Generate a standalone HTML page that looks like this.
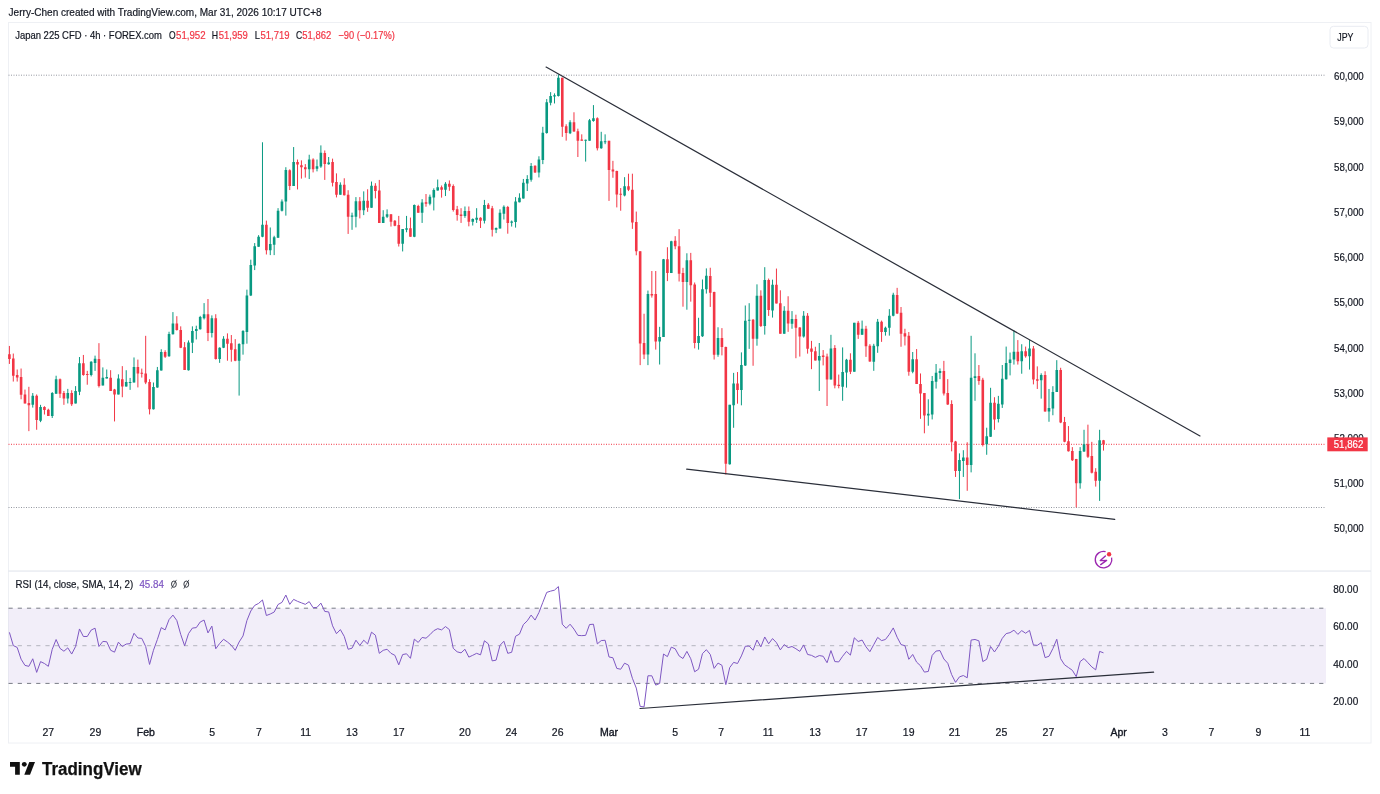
<!DOCTYPE html>
<html><head><meta charset="utf-8"><title>Japan 225 CFD 4h chart</title>
<style>html,body{margin:0;padding:0;background:#fff;width:1380px;height:794px;overflow:hidden}svg{display:block;will-change:transform}text{font-family:"Liberation Sans",sans-serif}</style>
</head><body>
<svg width="1380" height="794" viewBox="0 0 1380 794" font-family="Liberation Sans, sans-serif"><rect x="8.5" y="22.5" width="1362.5" height="720.5" fill="none" stroke="#EEF0F4" stroke-width="1"/>
<rect x="8" y="570.4" width="1363" height="1.3" fill="#E6E9EF"/>
<rect x="8.5" y="608.2" width="1317.5" height="75.2" fill="#7E57C2" fill-opacity="0.1"/>
<line x1="8.5" y1="608.2" x2="1325" y2="608.2" stroke="#787B86" stroke-width="1" stroke-dasharray="4.2 5.03"/>
<line x1="8.5" y1="645.7" x2="1325" y2="645.7" stroke="#787B86" stroke-opacity="0.5" stroke-width="1" stroke-dasharray="4.2 5.03"/>
<line x1="8.5" y1="683.4" x2="1325" y2="683.4" stroke="#787B86" stroke-width="1" stroke-dasharray="4.2 5.03"/>
<line x1="8.5" y1="75.2" x2="1326" y2="75.2" stroke="#9598A1" stroke-width="1" stroke-dasharray="1 1.5"/>
<line x1="8.5" y1="507.5" x2="1326" y2="507.5" stroke="#9598A1" stroke-width="1" stroke-dasharray="1 1.5"/>
<line x1="8.5" y1="444.3" x2="1326" y2="444.3" stroke="#F23645" stroke-width="1" stroke-dasharray="1 1.5"/>
<path d="M32.76 393.05V407.60M40.55 404.83V422.15M52.23 392.08V417.99M56.12 375.73V393.74M67.80 388.89V403.44M75.59 386.12V403.44M79.48 357.02V395.13M91.17 361.18V376.42M95.06 355.64V370.88M102.85 367.41V385.43M106.74 369.49V378.50M118.42 374.34V394.43M126.21 370.23V386.60M130.10 377.92V389.87M134.00 357.46V382.51M153.46 382.51V409.52M157.36 366.95V387.75M161.25 349.27V370.55M169.04 331.75V356.80M172.93 312.10V334.53M188.51 340.43V370.55M192.40 326.35V353.04M196.29 325.69V339.45M200.19 315.87V329.62M204.08 303.10V319.47M211.87 315.38V337.48M219.65 347.30V362.86M223.55 336.17V348.12M239.12 343.21V395.60M243.02 330.11V354.67M246.91 289.65V343.68M250.80 259.69V296.05M254.70 243.06V270.08M258.59 235.16V246.80M262.48 142.27V237.24M270.27 227.47V255.11M274.16 235.79V255.11M278.06 208.15V237.87M281.95 199.42V211.47M285.85 167.21V215.63M293.63 147.05V185.91M309.21 154.74V179.06M316.99 159.52V171.37M320.89 145.39V167.83M328.67 157.00V164.70M340.36 182.37V194.65M352.04 212.65V229.84M355.93 197.10V227.38M363.72 191.37V215.11M371.50 181.55V207.74M383.19 210.20V222.96M387.08 209.38V218.05M402.65 229.02V251.44M406.55 215.92V232.29M414.33 204.47V237.20M422.12 199.12V222.93M429.91 194.58V205.35M433.80 188.34V210.45M437.70 179.50V190.61M445.48 182.11V196.05M464.95 206.49V217.82M472.74 218.39V225.53M476.63 208.19V222.93M484.42 199.91V223.49M496.10 227.46V233.13M499.99 209.32V228.59M503.89 205.35V219.52M511.67 220.50V226.55M515.57 197.08V227.61M519.46 193.30V202.37M523.35 178.94V198.59M527.25 175.16V191.03M531.14 163.07V181.66M538.93 156.27V177.43M542.82 126.80V164.13M546.72 99.06V133.70M550.61 92.13V105.35M554.50 93.39V103.46M558.40 74.49V96.54M570.08 120.22V134.08M585.65 139.66V161.59M589.55 118.96V140.63M593.44 105.10V121.73M601.23 131.81V148.82M605.12 134.33V144.16M624.59 177.16V196.37M647.95 290.57V365.13M659.63 326.84V364.52M663.52 258.93V336.91M671.31 240.79V273.04M686.89 253.29V309.71M698.57 317.77V349.61M702.46 279.48V336.91M706.35 268.40V293.59M718.03 327.28V356.77M729.71 404.84V464.67M733.61 372.87V427.79M741.40 352.38V405.33M745.29 305.49V365.98M749.18 303.19V348.88M756.97 284.35V345.70M764.76 267.18V334.62M772.54 279.65V317.59M784.23 306.23V333.65M792.01 311.09V328.76M803.69 311.09V337.60M819.27 343.00V390.95M830.95 334.82V379.49M842.63 347.42V400.77M846.52 358.87V387.67M854.31 322.87V371.64M862.10 320.58V334.82M873.78 343.82V370.82M877.67 318.95V352.82M885.46 326.64V335.64M889.35 309.13V335.64M893.25 292.76V316.33M912.71 352.00V373.27M928.29 399.29V425.75M932.18 375.98V419.45M936.08 364.02V388.58M939.97 368.43V379.13M959.44 453.38V499.13M963.33 450.19V476.95M971.12 335.81V472.37M975.01 353.31V400.80M986.69 427.73V454.77M990.59 387.80V436.88M998.37 395.88V422.46M1002.27 365.00V407.93M1006.16 346.59V379.54M1010.05 352.54V375.39M1013.95 330.38V364.59M1021.73 344.23V373.72M1029.52 340.08V369.57M1041.20 373.31V398.65M1048.99 388.96V421.77M1052.88 386.19V415.26M1056.78 360.16V392.00M1080.14 447.11V488.68M1084.03 429.79V451.96M1099.61 429.79V500.88" stroke="#089981" stroke-width="1" fill="none"/>
<path d="M9.40 345.94V363.95M13.29 353.56V381.55M17.19 369.49V381.55M21.08 368.52V399.28M24.97 389.58V403.44M28.87 386.81V431.15M36.66 394.43V429.77M44.44 406.21V414.53M48.34 408.71V415.91M60.02 378.50V397.90M63.91 390.97V404.83M71.70 390.28V405.94M83.38 354.94V375.73M87.27 370.88V384.73M98.95 343.16V387.51M110.63 370.18V390.97M114.53 388.89V421.45M122.31 366.13V397.24M137.89 359.58V387.42M141.78 368.59V377.59M145.68 335.84V384.14M149.57 379.23V414.43M165.14 350.25V357.95M176.82 316.20V330.60M180.72 326.35V348.12M184.61 342.07V369.90M207.97 299.01V341.08M215.76 314.23V359.58M227.44 333.39V360.73M231.33 335.03V361.71M235.23 339.12V361.22M266.38 220.62V254.49M289.74 169.29V190.07M297.53 159.52V189.45M301.42 160.35V178.64M305.31 164.09V177.60M313.10 158.27V172.41M324.78 150.46V179.92M332.57 158.64V186.46M336.46 173.37V197.43M344.25 178.28V195.47M348.14 190.23V233.93M359.82 197.10V218.38M367.61 189.25V211.83M375.40 183.19V198.41M379.29 179.92V222.96M390.97 214.29V226.56M394.87 220.02V226.24M398.76 215.92V246.53M410.44 217.56V236.71M418.23 204.78V212.72M426.01 194.01V206.71M441.59 185.51V197.64M449.38 180.41V190.84M453.27 184.38V211.59M457.16 205.92V220.66M461.06 208.19V222.93M468.84 206.49V226.33M480.52 217.26V228.03M488.31 203.08V208.98M492.21 205.92V236.53M507.78 205.92V233.70M535.04 165.34V172.90M562.29 77.64V136.85M566.18 124.25V140.63M573.97 112.28V131.81M577.86 128.66V157.01M581.76 134.33V140.63M597.33 117.32V150.46M609.01 140.87V200.91M612.91 160.83V177.77M616.80 170.66V207.41M620.69 188.05V210.74M628.48 173.69V191.08M632.38 173.69V228.88M636.27 211.57V255.30M640.16 251.27V365.13M644.06 313.74V359.08M651.84 271.02V297.62M655.74 271.02V349.61M667.42 247.24V281.10M675.20 236.16V249.26M679.10 229.11V281.50M682.99 267.80V306.69M690.78 252.88V301.65M694.67 282.51V348.40M710.25 267.74V306.92M714.14 291.69V359.54M721.93 328.11V355.39M725.82 346.64V474.51M737.50 372.05V403.69M753.08 318.97V365.77M760.86 290.31V327.00M768.65 278.54V315.92M776.44 268.57V303.46M780.33 290.31V333.65M788.12 296.26V331.85M795.91 314.69V358.22M799.80 327.13V356.58M807.59 313.06V353.64M811.48 340.87V369.18M815.37 346.76V360.51M823.16 350.04V365.42M827.05 353.64V406.00M834.84 345.13V388.33M838.74 374.58V388.33M850.42 353.31V374.09M858.20 320.91V338.91M865.99 325.82V356.91M869.88 344.15V361.82M881.57 320.58V341.86M897.14 287.85V314.04M901.03 307.00V346.76M904.93 328.76V345.46M908.82 332.04V375.73M916.61 349.06V383.91M920.50 373.46V418.82M924.39 392.99V433.31M943.86 360.87V395.51M947.76 379.13V404.96M951.65 400.28V451.30M955.54 440.90V476.95M967.22 442.29V490.81M978.90 365.02V384.80M982.80 377.82V446.45M994.48 397.23V429.81M1017.84 340.08V364.59M1025.63 346.59V357.66M1033.42 346.03V384.39M1037.31 366.39V388.96M1045.10 371.23V411.66M1060.67 367.77V423.16M1064.56 416.91V442.26M1068.46 426.05V451.55M1072.35 447.11V460.97M1076.24 458.89V507.39M1087.93 424.67V457.92M1091.82 441.85V473.44M1095.71 468.18V486.60M1103.50 439.91V450.58" stroke="#F23645" stroke-width="1" fill="none"/>
<path d="M31.46 395.82h2.6v9.01h-2.6zM39.25 406.91h2.6v13.86h-2.6zM50.93 393.05h2.6v22.86h-2.6zM54.82 379.19h2.6v14.55h-2.6zM66.50 393.05h2.6v5.54h-2.6zM74.29 390.97h2.6v12.47h-2.6zM78.18 363.26h2.6v28.41h-2.6zM89.87 361.87h2.6v13.16h-2.6zM93.76 358.82h2.6v4.16h-2.6zM101.55 377.81h2.6v7.62h-2.6zM105.44 377.11h2.6v1.39h-2.6zM117.12 378.50h2.6v15.94h-2.6zM124.91 382.02h2.6v4.58h-2.6zM128.80 382.02h2.6v1.00h-2.6zM132.70 366.95h2.6v15.55h-2.6zM152.16 386.93h2.6v22.27h-2.6zM156.06 370.23h2.6v17.19h-2.6zM159.95 351.89h2.6v18.66h-2.6zM167.74 333.88h2.6v22.43h-2.6zM171.63 323.56h2.6v10.64h-2.6zM187.21 342.39h2.6v27.83h-2.6zM191.10 330.93h2.6v11.79h-2.6zM194.99 328.97h2.6v1.96h-2.6zM198.89 317.02h2.6v12.28h-2.6zM202.78 314.23h2.6v3.93h-2.6zM210.57 318.16h2.6v14.74h-2.6zM218.35 347.63h2.6v11.46h-2.6zM222.25 338.79h2.6v8.84h-2.6zM237.82 344.03h2.6v16.70h-2.6zM241.72 330.93h2.6v13.43h-2.6zM245.61 295.38h2.6v36.51h-2.6zM249.50 264.88h2.6v30.55h-2.6zM253.40 246.18h2.6v19.33h-2.6zM257.29 236.83h2.6v9.97h-2.6zM261.18 224.77h2.6v12.05h-2.6zM268.97 244.10h2.6v6.23h-2.6zM272.86 237.24h2.6v7.48h-2.6zM276.76 210.85h2.6v27.02h-2.6zM280.65 201.50h2.6v9.35h-2.6zM284.55 169.91h2.6v31.59h-2.6zM292.33 162.02h2.6v23.90h-2.6zM307.91 159.52h2.6v9.77h-2.6zM315.69 166.17h2.6v2.49h-2.6zM319.59 152.66h2.6v13.92h-2.6zM327.37 162.41h2.6v1.96h-2.6zM339.06 184.83h2.6v9.82h-2.6zM350.74 215.43h2.6v1.31h-2.6zM354.63 201.19h2.6v15.55h-2.6zM362.42 200.70h2.6v9.49h-2.6zM370.20 185.65h2.6v22.09h-2.6zM381.89 216.74h2.6v6.22h-2.6zM385.78 214.29h2.6v2.45h-2.6zM401.35 229.02h2.6v14.73h-2.6zM405.25 228.20h2.6v1.64h-2.6zM413.03 204.96h2.6v31.75h-2.6zM420.82 202.52h2.6v10.20h-2.6zM428.61 196.85h2.6v6.80h-2.6zM432.50 190.05h2.6v7.37h-2.6zM436.40 187.21h2.6v3.40h-2.6zM444.18 183.81h2.6v5.90h-2.6zM463.65 211.02h2.6v5.10h-2.6zM471.44 218.96h2.6v2.83h-2.6zM475.33 217.82h2.6v2.04h-2.6zM483.12 205.12h2.6v15.53h-2.6zM494.80 228.03h2.6v1.70h-2.6zM498.69 212.72h2.6v15.87h-2.6zM502.59 206.71h2.6v7.14h-2.6zM510.37 221.56h2.6v1.21h-2.6zM514.27 201.61h2.6v20.40h-2.6zM518.16 197.83h2.6v4.53h-2.6zM522.05 182.72h2.6v15.87h-2.6zM525.95 178.94h2.6v4.53h-2.6zM529.84 166.10h2.6v13.60h-2.6zM537.63 159.60h2.6v13.00h-2.6zM541.52 132.85h2.6v27.20h-2.6zM545.42 102.20h2.6v30.87h-2.6zM549.31 95.91h2.6v6.93h-2.6zM553.20 95.28h2.6v1.26h-2.6zM557.10 77.64h2.6v18.27h-2.6zM568.78 122.36h2.6v10.96h-2.6zM584.35 139.66h2.6v1.00h-2.6zM588.25 120.22h2.6v20.41h-2.6zM592.14 118.20h2.6v2.90h-2.6zM599.93 141.26h2.6v6.93h-2.6zM603.82 141.26h2.6v1.00h-2.6zM623.29 186.24h2.6v9.38h-2.6zM646.65 293.99h2.6v60.45h-2.6zM658.33 336.91h2.6v4.63h-2.6zM662.22 259.33h2.6v77.58h-2.6zM670.01 241.20h2.6v31.84h-2.6zM685.59 260.34h2.6v21.56h-2.6zM697.27 335.91h2.6v7.05h-2.6zM701.16 289.16h2.6v47.15h-2.6zM705.05 275.86h2.6v13.30h-2.6zM716.73 338.08h2.6v16.62h-2.6zM728.41 404.84h2.6v59.51h-2.6zM732.31 383.52h2.6v21.80h-2.6zM740.10 365.00h2.6v25.08h-2.6zM743.99 320.74h2.6v44.75h-2.6zM747.88 319.80h2.6v1.00h-2.6zM755.67 295.85h2.6v42.92h-2.6zM763.46 279.92h2.6v45.97h-2.6zM771.24 284.77h2.6v25.62h-2.6zM782.93 310.66h2.6v22.99h-2.6zM790.71 318.95h2.6v4.91h-2.6zM802.39 315.67h2.6v20.78h-2.6zM817.97 356.09h2.6v4.42h-2.6zM829.65 348.40h2.6v31.09h-2.6zM841.33 371.97h2.6v14.73h-2.6zM845.22 359.86h2.6v12.60h-2.6zM853.01 322.87h2.6v48.76h-2.6zM860.80 328.76h2.6v6.05h-2.6zM872.48 345.78h2.6v16.04h-2.6zM876.37 321.73h2.6v24.55h-2.6zM884.16 327.78h2.6v4.25h-2.6zM888.05 315.67h2.6v12.11h-2.6zM891.95 294.73h2.6v20.95h-2.6zM911.41 359.37h2.6v12.27h-2.6zM926.99 413.78h2.6v1.64h-2.6zM930.88 381.02h2.6v33.39h-2.6zM934.78 372.83h2.6v8.82h-2.6zM938.67 370.94h2.6v2.14h-2.6zM958.14 459.90h2.6v11.09h-2.6zM962.03 457.54h2.6v3.47h-2.6zM969.82 377.82h2.6v87.07h-2.6zM973.71 376.36h2.6v1.76h-2.6zM985.39 436.33h2.6v8.04h-2.6zM989.29 402.77h2.6v33.97h-2.6zM997.07 403.77h2.6v15.23h-2.6zM1000.97 378.85h2.6v25.62h-2.6zM1004.86 362.92h2.6v16.34h-2.6zM1008.75 359.46h2.6v3.46h-2.6zM1012.65 351.85h2.6v7.62h-2.6zM1020.43 351.15h2.6v10.11h-2.6zM1028.22 348.39h2.6v7.89h-2.6zM1039.90 375.11h2.6v5.12h-2.6zM1047.69 407.93h2.6v3.46h-2.6zM1051.58 392.00h2.6v16.62h-2.6zM1055.48 370.12h2.6v21.88h-2.6zM1078.84 450.99h2.6v32.15h-2.6zM1082.73 444.34h2.6v7.21h-2.6zM1098.31 440.18h2.6v40.46h-2.6z" fill="#089981"/>
<path d="M8.10 354.25h2.6v4.85h-2.6zM11.99 358.41h2.6v17.32h-2.6zM15.89 375.03h2.6v2.36h-2.6zM19.78 377.11h2.6v17.74h-2.6zM23.67 394.43h2.6v9.01h-2.6zM27.57 403.03h2.6v2.22h-2.6zM35.36 395.82h2.6v24.25h-2.6zM43.14 406.91h2.6v3.19h-2.6zM47.04 409.68h2.6v6.24h-2.6zM58.72 379.19h2.6v14.55h-2.6zM62.61 393.05h2.6v5.54h-2.6zM70.40 393.05h2.6v11.09h-2.6zM82.08 363.26h2.6v11.78h-2.6zM85.97 374.06h2.6v1.00h-2.6zM97.65 359.10h2.6v27.02h-2.6zM109.33 377.81h2.6v13.16h-2.6zM113.23 389.58h2.6v4.85h-2.6zM121.01 379.23h2.6v7.37h-2.6zM136.59 366.95h2.6v6.55h-2.6zM140.48 372.68h2.6v1.00h-2.6zM144.38 373.50h2.6v9.01h-2.6zM148.27 382.02h2.6v27.18h-2.6zM163.84 351.89h2.6v4.91h-2.6zM175.52 323.56h2.6v6.55h-2.6zM179.42 330.11h2.6v17.52h-2.6zM183.31 347.30h2.6v22.59h-2.6zM206.67 314.23h2.6v18.66h-2.6zM214.46 318.16h2.6v40.93h-2.6zM226.14 338.79h2.6v4.91h-2.6zM230.03 343.21h2.6v6.55h-2.6zM233.93 349.27h2.6v11.46h-2.6zM265.08 224.77h2.6v25.56h-2.6zM288.44 170.33h2.6v15.59h-2.6zM296.23 162.02h2.6v2.49h-2.6zM300.12 165.13h2.6v2.08h-2.6zM304.01 167.21h2.6v2.08h-2.6zM311.80 159.52h2.6v9.77h-2.6zM323.48 152.91h2.6v11.13h-2.6zM331.27 161.91h2.6v20.79h-2.6zM335.16 182.05h2.6v12.60h-2.6zM342.95 184.83h2.6v10.31h-2.6zM346.84 194.65h2.6v22.09h-2.6zM358.52 201.19h2.6v9.00h-2.6zM366.31 200.70h2.6v7.04h-2.6zM374.10 185.65h2.6v5.24h-2.6zM377.99 190.56h2.6v32.41h-2.6zM389.67 214.29h2.6v7.36h-2.6zM393.57 220.83h2.6v4.91h-2.6zM397.46 224.93h2.6v18.82h-2.6zM409.14 228.20h2.6v8.51h-2.6zM416.93 205.92h2.6v6.80h-2.6zM424.71 202.18h2.6v1.47h-2.6zM440.29 187.21h2.6v2.49h-2.6zM448.08 183.81h2.6v2.83h-2.6zM451.97 186.08h2.6v23.81h-2.6zM455.86 209.32h2.6v5.67h-2.6zM459.76 214.42h2.6v1.70h-2.6zM467.54 211.02h2.6v10.77h-2.6zM479.22 217.82h2.6v2.83h-2.6zM487.01 204.78h2.6v3.97h-2.6zM490.91 208.19h2.6v21.54h-2.6zM506.48 207.05h2.6v15.87h-2.6zM533.74 165.64h2.6v6.95h-2.6zM560.99 77.64h2.6v49.13h-2.6zM564.88 126.14h2.6v6.93h-2.6zM572.67 122.36h2.6v9.20h-2.6zM576.56 131.18h2.6v9.45h-2.6zM580.46 139.62h2.6v1.01h-2.6zM596.03 118.20h2.6v29.98h-2.6zM607.71 140.87h2.6v29.04h-2.6zM611.61 169.60h2.6v1.81h-2.6zM615.50 171.12h2.6v23.29h-2.6zM619.39 193.80h2.6v1.06h-2.6zM627.18 186.24h2.6v3.63h-2.6zM631.08 189.87h2.6v32.67h-2.6zM634.97 222.05h2.6v29.22h-2.6zM638.86 251.27h2.6v92.29h-2.6zM642.76 342.96h2.6v11.49h-2.6zM650.54 293.99h2.6v1.61h-2.6zM654.44 293.99h2.6v47.56h-2.6zM666.12 259.33h2.6v13.70h-2.6zM673.90 240.79h2.6v5.44h-2.6zM677.80 246.23h2.6v27.61h-2.6zM681.69 273.04h2.6v8.87h-2.6zM689.48 260.34h2.6v24.79h-2.6zM693.37 284.52h2.6v58.44h-2.6zM708.95 276.05h2.6v16.62h-2.6zM712.84 292.11h2.6v62.59h-2.6zM720.63 338.08h2.6v9.00h-2.6zM724.52 346.97h2.6v116.89h-2.6zM736.20 383.52h2.6v6.56h-2.6zM751.78 319.80h2.6v18.97h-2.6zM759.56 295.85h2.6v30.05h-2.6zM767.35 279.92h2.6v30.19h-2.6zM775.14 284.77h2.6v18.69h-2.6zM779.03 303.19h2.6v30.46h-2.6zM786.82 310.66h2.6v12.88h-2.6zM794.61 318.95h2.6v8.84h-2.6zM798.50 327.46h2.6v9.00h-2.6zM806.29 315.67h2.6v33.06h-2.6zM810.18 348.40h2.6v3.27h-2.6zM814.07 351.18h2.6v9.33h-2.6zM821.86 355.60h2.6v1.31h-2.6zM825.75 356.58h2.6v22.91h-2.6zM833.54 347.91h2.6v37.64h-2.6zM837.44 384.73h2.6v1.31h-2.6zM849.12 359.86h2.6v11.78h-2.6zM856.90 322.87h2.6v11.95h-2.6zM864.69 328.76h2.6v17.51h-2.6zM868.58 345.78h2.6v15.71h-2.6zM880.27 321.73h2.6v10.31h-2.6zM895.84 295.05h2.6v18.49h-2.6zM899.73 312.73h2.6v20.95h-2.6zM903.63 333.18h2.6v3.27h-2.6zM907.52 335.64h2.6v36.00h-2.6zM915.31 359.37h2.6v24.55h-2.6zM919.20 383.92h2.6v9.70h-2.6zM923.09 392.99h2.6v22.43h-2.6zM942.56 370.94h2.6v22.68h-2.6zM946.46 392.99h2.6v11.59h-2.6zM950.35 404.02h2.6v38.27h-2.6zM954.24 441.59h2.6v29.39h-2.6zM965.92 457.54h2.6v7.35h-2.6zM977.60 375.98h2.6v5.04h-2.6zM981.50 379.76h2.6v65.30h-2.6zM993.18 402.77h2.6v16.64h-2.6zM1016.54 351.85h2.6v9.42h-2.6zM1024.33 351.15h2.6v5.12h-2.6zM1032.12 348.39h2.6v31.15h-2.6zM1036.01 379.26h2.6v1.38h-2.6zM1043.80 375.11h2.6v36.28h-2.6zM1059.37 370.12h2.6v52.34h-2.6zM1063.26 421.89h2.6v19.95h-2.6zM1067.16 441.29h2.6v9.98h-2.6zM1071.05 450.99h2.6v9.28h-2.6zM1074.94 458.89h2.6v24.25h-2.6zM1086.63 444.34h2.6v12.47h-2.6zM1090.52 456.12h2.6v16.63h-2.6zM1094.41 471.78h2.6v8.87h-2.6zM1102.20 440.18h2.6v4.43h-2.6z" fill="#F23645"/>
<line x1="546.1" y1="67.1" x2="1200" y2="435.9" stroke="#2A2E39" stroke-width="1.2" stroke-linecap="round"/>
<line x1="686.7" y1="469.1" x2="1114.8" y2="519.3" stroke="#2A2E39" stroke-width="1.2" stroke-linecap="round"/>
<path d="M9.40 632.34 L13.29 645.56 L17.19 647.45 L21.08 659.16 L24.97 665.40 L28.87 666.34 L32.76 658.78 L36.66 672.38 L40.55 661.62 L44.44 663.51 L48.34 666.34 L52.23 649.34 L56.12 639.52 L60.02 648.39 L63.91 651.23 L67.80 647.83 L71.70 654.06 L75.59 646.51 L79.48 628.94 L83.38 636.49 L87.27 636.49 L91.17 630.07 L95.06 628.18 L98.95 646.51 L102.85 641.40 L106.74 641.78 L110.63 650.28 L114.53 652.17 L118.42 642.16 L122.31 646.51 L126.21 644.05 L130.10 643.67 L134.00 633.28 L137.89 638.00 L141.78 638.38 L145.68 646.51 L149.57 664.45 L153.46 650.28 L157.36 639.52 L161.25 627.62 L165.14 629.89 L169.04 619.61 L172.93 615.08 L176.82 620.52 L180.72 634.43 L184.61 645.77 L188.51 633.67 L192.40 628.08 L196.29 627.62 L200.19 622.03 L204.08 620.06 L207.97 632.92 L211.87 626.11 L215.76 648.79 L219.65 643.50 L223.55 639.27 L227.44 641.99 L231.33 645.31 L235.23 650.30 L239.12 641.99 L243.02 635.94 L246.91 620.52 L250.80 610.99 L254.70 605.40 L258.59 603.43 L262.48 599.96 L266.38 615.53 L270.27 614.02 L274.16 612.05 L278.06 604.49 L281.95 602.38 L285.85 595.05 L289.74 604.35 L293.63 599.36 L297.53 601.33 L301.42 602.84 L305.31 604.35 L309.21 601.63 L313.10 607.68 L316.99 607.38 L320.89 603.14 L324.78 611.46 L328.67 611.91 L332.57 625.82 L336.46 633.68 L340.36 629.60 L344.25 636.41 L348.14 649.26 L352.04 648.20 L355.93 640.19 L359.82 645.48 L363.72 640.19 L367.61 643.97 L371.50 632.17 L375.40 635.20 L379.29 653.34 L383.19 650.32 L387.08 649.26 L390.97 653.34 L394.87 655.31 L398.76 664.83 L402.65 654.55 L406.55 653.79 L410.44 658.33 L414.33 639.13 L418.23 642.45 L422.12 637.45 L426.01 638.21 L429.91 634.73 L433.80 630.65 L437.70 628.68 L441.59 629.89 L445.48 626.57 L449.38 629.59 L453.27 648.34 L457.16 651.82 L461.06 652.88 L464.95 649.25 L468.84 657.11 L472.74 655.29 L476.63 653.33 L480.52 654.84 L484.42 640.78 L488.31 643.80 L492.21 660.89 L496.10 660.13 L499.99 645.32 L503.89 641.23 L507.78 653.33 L511.67 652.27 L515.57 636.24 L519.46 634.13 L523.35 624.60 L527.25 620.82 L531.14 615.08 L535.04 620.07 L538.93 612.51 L542.82 602.38 L546.72 592.40 L550.61 591.13 L554.50 590.15 L558.40 586.55 L562.29 624.21 L566.18 628.31 L570.08 624.21 L573.97 629.12 L577.86 635.35 L581.76 635.67 L585.65 635.35 L589.55 624.54 L593.44 624.21 L597.33 643.86 L601.23 640.59 L605.12 640.26 L609.01 656.96 L612.91 657.78 L616.80 668.42 L620.69 669.24 L624.59 663.18 L628.48 665.15 L632.38 678.25 L636.27 688.07 L640.16 706.41 L644.06 706.90 L647.95 675.79 L651.84 675.79 L655.74 685.13 L659.63 683.49 L663.52 654.01 L667.42 656.63 L671.31 647.14 L675.20 648.77 L679.10 655.91 L682.99 658.52 L686.89 651.38 L690.78 658.75 L694.67 671.78 L698.57 669.18 L702.46 653.65 L706.35 649.68 L710.25 654.44 L714.14 668.38 L718.03 663.06 L721.93 665.32 L725.82 684.59 L729.71 667.59 L733.61 662.38 L737.50 663.51 L741.40 655.91 L745.29 646.28 L749.18 646.05 L753.08 650.24 L756.97 640.04 L760.86 646.84 L764.76 636.98 L768.65 643.78 L772.54 638.57 L776.44 642.65 L780.33 649.90 L784.23 644.58 L788.12 647.64 L792.01 646.50 L795.91 648.77 L799.80 651.38 L803.69 644.92 L807.59 654.44 L811.48 655.35 L815.37 657.39 L819.27 655.57 L823.16 656.25 L827.05 662.72 L830.95 650.58 L834.84 661.58 L838.74 661.92 L842.63 656.25 L846.52 651.38 L850.42 655.12 L854.31 637.77 L858.20 641.52 L862.10 640.04 L865.99 646.84 L869.88 651.72 L873.78 644.58 L877.67 637.43 L881.57 640.61 L885.46 639.48 L889.35 634.37 L893.25 627.91 L897.14 637.21 L901.03 644.58 L904.93 645.71 L908.82 659.31 L912.71 654.44 L916.61 662.15 L920.50 665.78 L924.39 672.12 L928.29 671.44 L932.18 655.35 L936.08 651.04 L939.97 650.58 L943.86 658.97 L947.76 663.28 L951.65 674.62 L955.54 682.33 L959.44 676.89 L963.33 675.53 L967.22 677.79 L971.12 640.04 L975.01 639.48 L978.90 640.84 L982.80 661.58 L986.69 659.31 L990.59 646.50 L994.48 651.95 L998.37 646.28 L1002.27 638.34 L1006.16 633.58 L1010.05 632.67 L1013.95 630.18 L1017.84 634.37 L1021.73 630.63 L1025.63 633.24 L1029.52 630.41 L1033.42 644.92 L1037.31 645.37 L1041.20 642.65 L1045.10 657.61 L1048.99 656.25 L1052.88 648.54 L1056.78 639.25 L1060.67 658.75 L1064.56 664.81 L1068.46 667.56 L1072.35 670.31 L1076.24 676.66 L1080.14 661.58 L1084.03 658.52 L1087.93 662.72 L1091.82 666.91 L1095.71 669.86 L1099.61 651.38 L1103.50 652.85" stroke="#7E57C2" stroke-width="1.0" fill="none" stroke-linejoin="round"/>
<line x1="640" y1="708.5" x2="1153.6" y2="672.1" stroke="#2A2E39" stroke-width="1.2" stroke-linecap="round"/>
<text x="8.60" y="15.90" font-size="10.5" fill="#131722" text-anchor="start" font-weight="normal" textLength="313.0" lengthAdjust="spacingAndGlyphs" stroke="#131722" stroke-width="0.2">Jerry-Chen created with TradingView.com, Mar 31, 2026 10:17 UTC+8</text>
<text x="15.20" y="38.80" font-size="10.5" fill="#131722" text-anchor="start" font-weight="normal" textLength="146.8" lengthAdjust="spacingAndGlyphs" stroke="#131722" stroke-width="0.2">Japan 225 CFD · 4h · FOREX.com</text>
<text x="169.00" y="38.80" font-size="10.5" fill="#131722" text-anchor="start" font-weight="normal" textLength="6.6" lengthAdjust="spacingAndGlyphs" stroke="#131722" stroke-width="0.2">O</text>
<text x="176.00" y="38.80" font-size="10.5" fill="#F23645" text-anchor="start" font-weight="normal" textLength="29.6" lengthAdjust="spacingAndGlyphs" stroke="#F23645" stroke-width="0.2">51,952</text>
<text x="211.80" y="38.80" font-size="10.5" fill="#131722" text-anchor="start" font-weight="normal" textLength="6.3" lengthAdjust="spacingAndGlyphs" stroke="#131722" stroke-width="0.2">H</text>
<text x="218.80" y="38.80" font-size="10.5" fill="#F23645" text-anchor="start" font-weight="normal" textLength="29.0" lengthAdjust="spacingAndGlyphs" stroke="#F23645" stroke-width="0.2">51,959</text>
<text x="254.80" y="38.80" font-size="10.5" fill="#131722" text-anchor="start" font-weight="normal" textLength="5.2" lengthAdjust="spacingAndGlyphs" stroke="#131722" stroke-width="0.2">L</text>
<text x="260.50" y="38.80" font-size="10.5" fill="#F23645" text-anchor="start" font-weight="normal" textLength="29.1" lengthAdjust="spacingAndGlyphs" stroke="#F23645" stroke-width="0.2">51,719</text>
<text x="296.00" y="38.80" font-size="10.5" fill="#131722" text-anchor="start" font-weight="normal" textLength="6.2" lengthAdjust="spacingAndGlyphs" stroke="#131722" stroke-width="0.2">C</text>
<text x="302.30" y="38.80" font-size="10.5" fill="#F23645" text-anchor="start" font-weight="normal" textLength="29.0" lengthAdjust="spacingAndGlyphs" stroke="#F23645" stroke-width="0.2">51,862</text>
<text x="338.30" y="38.80" font-size="10.5" fill="#F23645" text-anchor="start" font-weight="normal" textLength="56.5" lengthAdjust="spacingAndGlyphs" stroke="#F23645" stroke-width="0.2">−90 (−0.17%)</text>
<rect x="1330" y="26.3" width="38" height="21.7" rx="3.5" fill="#fff" stroke="#E9ECF2" stroke-width="1"/>
<text x="1337.30" y="41.00" font-size="10" fill="#131722" text-anchor="start" font-weight="normal" textLength="16.1" lengthAdjust="spacingAndGlyphs" stroke="#131722" stroke-width="0.2">JPY</text>
<text x="1363.70" y="80.20" font-size="11" fill="#131722" text-anchor="end" font-weight="normal" textLength="29.7" lengthAdjust="spacingAndGlyphs" stroke="#131722" stroke-width="0.2">60,000</text>
<text x="1363.70" y="125.42" font-size="11" fill="#131722" text-anchor="end" font-weight="normal" textLength="29.7" lengthAdjust="spacingAndGlyphs" stroke="#131722" stroke-width="0.2">59,000</text>
<text x="1363.70" y="170.64" font-size="11" fill="#131722" text-anchor="end" font-weight="normal" textLength="29.7" lengthAdjust="spacingAndGlyphs" stroke="#131722" stroke-width="0.2">58,000</text>
<text x="1363.70" y="215.86" font-size="11" fill="#131722" text-anchor="end" font-weight="normal" textLength="29.7" lengthAdjust="spacingAndGlyphs" stroke="#131722" stroke-width="0.2">57,000</text>
<text x="1363.70" y="261.08" font-size="11" fill="#131722" text-anchor="end" font-weight="normal" textLength="29.7" lengthAdjust="spacingAndGlyphs" stroke="#131722" stroke-width="0.2">56,000</text>
<text x="1363.70" y="306.30" font-size="11" fill="#131722" text-anchor="end" font-weight="normal" textLength="29.7" lengthAdjust="spacingAndGlyphs" stroke="#131722" stroke-width="0.2">55,000</text>
<text x="1363.70" y="351.52" font-size="11" fill="#131722" text-anchor="end" font-weight="normal" textLength="29.7" lengthAdjust="spacingAndGlyphs" stroke="#131722" stroke-width="0.2">54,000</text>
<text x="1363.70" y="396.74" font-size="11" fill="#131722" text-anchor="end" font-weight="normal" textLength="29.7" lengthAdjust="spacingAndGlyphs" stroke="#131722" stroke-width="0.2">53,000</text>
<text x="1363.70" y="441.96" font-size="11" fill="#131722" text-anchor="end" font-weight="normal" textLength="29.7" lengthAdjust="spacingAndGlyphs" stroke="#131722" stroke-width="0.2">52,000</text>
<text x="1363.70" y="487.18" font-size="11" fill="#131722" text-anchor="end" font-weight="normal" textLength="29.7" lengthAdjust="spacingAndGlyphs" stroke="#131722" stroke-width="0.2">51,000</text>
<text x="1363.70" y="532.40" font-size="11" fill="#131722" text-anchor="end" font-weight="normal" textLength="29.7" lengthAdjust="spacingAndGlyphs" stroke="#131722" stroke-width="0.2">50,000</text>
<rect x="1327.3" y="437.4" width="40.4" height="13.9" fill="#F23645"/>
<text x="1363.40" y="448.30" font-size="11" fill="#fff" text-anchor="end" font-weight="normal" textLength="29.7" lengthAdjust="spacingAndGlyphs" stroke="#fff" stroke-width="0.2">51,862</text>
<text x="1358.20" y="592.70" font-size="10.5" fill="#131722" text-anchor="end" font-weight="normal" textLength="25.0" lengthAdjust="spacingAndGlyphs" stroke="#131722" stroke-width="0.2">80.00</text>
<text x="1358.20" y="630.40" font-size="10.5" fill="#131722" text-anchor="end" font-weight="normal" textLength="25.0" lengthAdjust="spacingAndGlyphs" stroke="#131722" stroke-width="0.2">60.00</text>
<text x="1358.20" y="668.40" font-size="10.5" fill="#131722" text-anchor="end" font-weight="normal" textLength="25.0" lengthAdjust="spacingAndGlyphs" stroke="#131722" stroke-width="0.2">40.00</text>
<text x="1358.20" y="705.20" font-size="10.5" fill="#131722" text-anchor="end" font-weight="normal" textLength="25.0" lengthAdjust="spacingAndGlyphs" stroke="#131722" stroke-width="0.2">20.00</text>
<text x="15.50" y="588.00" font-size="10.5" fill="#131722" text-anchor="start" font-weight="normal" textLength="117.7" lengthAdjust="spacingAndGlyphs" stroke="#131722" stroke-width="0.2">RSI (14, close, SMA, 14, 2)</text>
<text x="139.40" y="588.00" font-size="10.5" fill="#7E57C2" text-anchor="start" font-weight="normal" textLength="24.5" lengthAdjust="spacingAndGlyphs" stroke="#7E57C2" stroke-width="0.2">45.84</text>
<g stroke="#2A2E39" fill="none"><ellipse cx="173.9" cy="584.15" rx="2.4" ry="3.15" stroke-width="0.95"/><line x1="171.4" y1="588.6" x2="176.4" y2="579.9" stroke-width="0.8"/></g>
<g stroke="#2A2E39" fill="none"><ellipse cx="186.3" cy="584.15" rx="2.4" ry="3.15" stroke-width="0.95"/><line x1="183.8" y1="588.6" x2="188.8" y2="579.9" stroke-width="0.8"/></g>
<text x="48.30" y="735.80" font-size="10.5" fill="#131722" text-anchor="middle" font-weight="normal" stroke="#131722" stroke-width="0.2">27</text>
<text x="95.40" y="735.80" font-size="10.5" fill="#131722" text-anchor="middle" font-weight="normal" stroke="#131722" stroke-width="0.2">29</text>
<text x="145.80" y="735.80" font-size="10.5" fill="#131722" text-anchor="middle" font-weight="normal" stroke="#131722" stroke-width="0.35">Feb</text>
<text x="212.20" y="735.80" font-size="10.5" fill="#131722" text-anchor="middle" font-weight="normal" stroke="#131722" stroke-width="0.2">5</text>
<text x="258.90" y="735.80" font-size="10.5" fill="#131722" text-anchor="middle" font-weight="normal" stroke="#131722" stroke-width="0.2">7</text>
<text x="305.70" y="735.80" font-size="10.5" fill="#131722" text-anchor="middle" font-weight="normal" stroke="#131722" stroke-width="0.2">11</text>
<text x="351.90" y="735.80" font-size="10.5" fill="#131722" text-anchor="middle" font-weight="normal" stroke="#131722" stroke-width="0.2">13</text>
<text x="398.80" y="735.80" font-size="10.5" fill="#131722" text-anchor="middle" font-weight="normal" stroke="#131722" stroke-width="0.2">17</text>
<text x="464.90" y="735.80" font-size="10.5" fill="#131722" text-anchor="middle" font-weight="normal" stroke="#131722" stroke-width="0.2">20</text>
<text x="511.30" y="735.80" font-size="10.5" fill="#131722" text-anchor="middle" font-weight="normal" stroke="#131722" stroke-width="0.2">24</text>
<text x="557.70" y="735.80" font-size="10.5" fill="#131722" text-anchor="middle" font-weight="normal" stroke="#131722" stroke-width="0.2">26</text>
<text x="609.00" y="735.80" font-size="10.5" fill="#131722" text-anchor="middle" font-weight="normal" stroke="#131722" stroke-width="0.35">Mar</text>
<text x="675.10" y="735.80" font-size="10.5" fill="#131722" text-anchor="middle" font-weight="normal" stroke="#131722" stroke-width="0.2">5</text>
<text x="721.20" y="735.80" font-size="10.5" fill="#131722" text-anchor="middle" font-weight="normal" stroke="#131722" stroke-width="0.2">7</text>
<text x="768.10" y="735.80" font-size="10.5" fill="#131722" text-anchor="middle" font-weight="normal" stroke="#131722" stroke-width="0.2">11</text>
<text x="815.10" y="735.80" font-size="10.5" fill="#131722" text-anchor="middle" font-weight="normal" stroke="#131722" stroke-width="0.2">13</text>
<text x="861.70" y="735.80" font-size="10.5" fill="#131722" text-anchor="middle" font-weight="normal" stroke="#131722" stroke-width="0.2">17</text>
<text x="908.70" y="735.80" font-size="10.5" fill="#131722" text-anchor="middle" font-weight="normal" stroke="#131722" stroke-width="0.2">19</text>
<text x="954.50" y="735.80" font-size="10.5" fill="#131722" text-anchor="middle" font-weight="normal" stroke="#131722" stroke-width="0.2">21</text>
<text x="1001.40" y="735.80" font-size="10.5" fill="#131722" text-anchor="middle" font-weight="normal" stroke="#131722" stroke-width="0.2">25</text>
<text x="1048.40" y="735.80" font-size="10.5" fill="#131722" text-anchor="middle" font-weight="normal" stroke="#131722" stroke-width="0.2">27</text>
<text x="1118.70" y="735.80" font-size="10.5" fill="#131722" text-anchor="middle" font-weight="normal" stroke="#131722" stroke-width="0.35">Apr</text>
<text x="1164.80" y="735.80" font-size="10.5" fill="#131722" text-anchor="middle" font-weight="normal" stroke="#131722" stroke-width="0.2">3</text>
<text x="1211.50" y="735.80" font-size="10.5" fill="#131722" text-anchor="middle" font-weight="normal" stroke="#131722" stroke-width="0.2">7</text>
<text x="1258.30" y="735.80" font-size="10.5" fill="#131722" text-anchor="middle" font-weight="normal" stroke="#131722" stroke-width="0.2">9</text>
<text x="1305.00" y="735.80" font-size="10.5" fill="#131722" text-anchor="middle" font-weight="normal" stroke="#131722" stroke-width="0.2">11</text>
<g fill="none" stroke="#9C27B0" stroke-width="1.3"><path d="M1105.6 551.6 A8.3 8.3 0 1 0 1111.6 557.6"/></g>
<circle cx="1109.1" cy="554.3" r="2.2" fill="#F23645"/>
<path d="M1105.4 556 L1100.3 560.6 L1106.6 560.4 L1100.7 564.6" fill="none" stroke="#9C27B0" stroke-width="1.4" stroke-linejoin="round" stroke-linecap="round"/>
<g fill="#111111"><path d="M10 762h9.8v12.8h-4.7v-8.1h-5.1z"/><circle cx="24.3" cy="764.3" r="2.4"/><path d="M29.3 762h5.7l-5 12.8h-5.7z"/></g>
<text x="42.00" y="774.70" font-size="17.5" fill="#111111" text-anchor="start" font-weight="bold" textLength="99.6" lengthAdjust="spacingAndGlyphs" stroke="#111111" stroke-width="0.25">TradingView</text></svg>
</body></html>
